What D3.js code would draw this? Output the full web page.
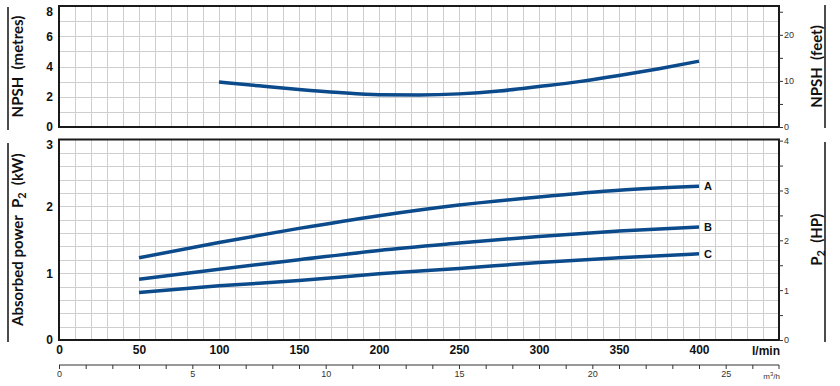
<!DOCTYPE html>
<html>
<head>
<meta charset="utf-8">
<script src="https://cdn.jsdelivr.net/npm/d3@7"></script>
<style>
  body { margin: 0; background: #fff; }
  svg { display: block; }
  .num { font-family: "Liberation Sans Narrow", "Liberation Sans", Arial, sans-serif; font-weight: bold; font-size: 12px; fill: #111; }
  .small { font-family: "Liberation Sans", Arial, sans-serif; font-size: 9px; fill: #333; }
  .title { font-family: Lato, "Open Sans", sans-serif; font-weight: bold; font-size: 15px; fill: #111; }
</style>
</head>
<body>
<div id="chart"></div>
<script>
// NPSH curve (l/min -> metres)
const npshFlow = [100, 125, 150, 175, 200, 225, 250, 275, 300, 325, 350, 375, 400];
const npshMetres = [2.97, 2.72, 2.48, 2.28, 2.14, 2.12, 2.19, 2.38, 2.68, 3.0, 3.4, 3.85, 4.35];

// absorbed power curves (l/min -> kW)
const powerFlow = [50, 100, 150, 200, 250, 300, 350, 400];
const powerA = [1.23, 1.46, 1.67, 1.86, 2.02, 2.14, 2.24, 2.30];
const powerB = [0.91, 1.06, 1.20, 1.34, 1.45, 1.55, 1.63, 1.69];
const powerC = [0.71, 0.81, 0.89, 0.99, 1.07, 1.16, 1.23, 1.29];
const curveNames = ["A", "B", "C"];

const flowTicks = [0, 50, 100, 150, 200, 250, 300, 350, 400];
const npshTicks = [0, 2, 4, 6, 8];
const feetTicks = [0, 10, 20];
const kwTicks = [0, 1, 2, 3];
const hpTicks = [0, 1, 2, 3, 4];
const m3Ticks = [0, 5, 10, 15, 20, 25];

const W = 840, H = 386;
const left = 59, right = 779;
const topPanel = { top: 6, bottom: 127 };
const botPanel = { top: 139.5, bottom: 340 };
const lineColor = "#0b4a8b";

const svg = d3.select("#chart").append("svg")
    .attr("width", W)
    .attr("height", H);

const x = d3.scaleLinear().domain([0, 450]).range([left, right]);
const xM3 = d3.scaleLinear().domain([0, 27]).range([left, right]);
const yNpsh = d3.scaleLinear().domain([0, 8]).range([topPanel.bottom, topPanel.top]);
const yFeet = d3.scaleLinear().domain([0, 8 * 3.28084]).range([topPanel.bottom, topPanel.top]);
const yKw = d3.scaleLinear().domain([0, 3]).range([botPanel.bottom, botPanel.top]);
const yHp = d3.scaleLinear().domain([0, 3 / 0.7457]).range([botPanel.bottom, botPanel.top]);

function grid(panel, y, step, max) {
    const g = svg.append("g").attr("stroke", "#cfcfcf").attr("stroke-width", 1);
    g.selectAll(".v")
        .data(d3.range(10, 450, 10))
        .join("line")
        .attr("x1", d => Math.round(x(d)) + 0.5)
        .attr("x2", d => Math.round(x(d)) + 0.5)
        .attr("y1", panel.top)
        .attr("y2", panel.bottom);
    g.selectAll(".h")
        .data(d3.range(step, max, step))
        .join("line")
        .attr("x1", left)
        .attr("x2", right)
        .attr("y1", d => Math.round(y(d)) + 0.5)
        .attr("y2", d => Math.round(y(d)) + 0.5);
}

grid(topPanel, yNpsh, 1, 7.99);
grid(botPanel, yKw, 0.2, 2.99);

// frames
[topPanel, botPanel].forEach(p => {
    svg.append("rect")
        .attr("x", left)
        .attr("y", p.top)
        .attr("width", right - left)
        .attr("height", p.bottom - p.top)
        .attr("fill", "none")
        .attr("stroke", "#1a1a1a")
        .attr("stroke-width", 2);
});

// left axes
const lAxisTop = svg.append("g")
    .attr("transform", `translate(${left},0)`)
    .call(d3.axisLeft(yNpsh).tickValues(npshTicks).tickSize(0).tickPadding(6).tickFormat(d3.format("d")));
const lAxisBot = svg.append("g")
    .attr("transform", `translate(${left},0)`)
    .call(d3.axisLeft(yKw).tickValues(kwTicks).tickSize(0).tickPadding(6).tickFormat(d3.format("d")));
[lAxisTop, lAxisBot].forEach(a => {
    a.select(".domain").remove();
    a.selectAll("text").attr("class", "num").attr("font-family", null).attr("font-size", null);
    // the top-most label sits a little lower, inside the frame
    a.selectAll(".tick text").filter((d, i, n) => i === n.length - 1).attr("dy", "0.75em");
});

// right axes
const rAxisTop = svg.append("g")
    .attr("transform", `translate(${right},0)`)
    .call(d3.axisRight(yFeet).tickValues(d3.range(0, 26, 5)).tickSize(4).tickPadding(1)
        .tickFormat(d => feetTicks.includes(d) ? d : ""));
const rAxisBot = svg.append("g")
    .attr("transform", `translate(${right},0)`)
    .call(d3.axisRight(yHp).tickValues(d3.range(0, 4.01, 0.5)).tickSize(4).tickPadding(1)
        .tickFormat(d => hpTicks.includes(d) ? d : ""));
[rAxisTop, rAxisBot].forEach(a => {
    a.select(".domain").remove();
    a.selectAll("line").attr("stroke", "#333");
    a.selectAll("text").attr("class", "small").attr("font-family", null).attr("font-size", null);
});

// bottom l/min axis
const xAxis = svg.append("g")
    .attr("transform", `translate(0,${botPanel.bottom})`)
    .call(d3.axisBottom(x).tickValues(flowTicks).tickSize(0).tickPadding(5));
xAxis.select(".domain").remove();
xAxis.selectAll("text").attr("class", "num").attr("font-family", null).attr("font-size", null);
svg.append("text")
    .attr("class", "num")
    .attr("x", 780)
    .attr("y", 355)
    .attr("text-anchor", "end")
    .text("l/min");

// m3/h axis
const m3Y = 365;
const m3Axis = svg.append("g")
    .attr("transform", `translate(0,${m3Y})`)
    .call(d3.axisBottom(xM3).tickValues(d3.range(0, 27, 1)).tickSize(4).tickPadding(2)
        .tickFormat(d => m3Ticks.includes(d) ? d : ""));
m3Axis.select(".domain").attr("d", `M${left},0H${right}`).attr("stroke", "#333");
m3Axis.selectAll("line").attr("stroke", "#333");
m3Axis.selectAll("text").attr("class", "small").attr("font-family", null).attr("font-size", null);
m3Axis.append("line")
    .attr("x1", right).attr("x2", right).attr("y1", 0).attr("y2", 4)
    .attr("stroke", "#333");
svg.append("text")
    .attr("class", "small")
    .attr("x", 780)
    .attr("y", 379)
    .attr("text-anchor", "end")
    .style("font-size", "8px")
    .html("m<tspan dy='-3' font-size='6'>3</tspan><tspan dy='3'>/h</tspan>");

// curves
const line = d3.line().curve(d3.curveMonotoneX);

svg.append("path")
    .attr("d", line(npshFlow.map((f, i) => [x(f), yNpsh(npshMetres[i])])))
    .attr("fill", "none")
    .attr("stroke", lineColor)
    .attr("stroke-width", 3.5);

[powerA, powerB, powerC].forEach((vals, k) => {
    svg.append("path")
        .attr("d", line(powerFlow.map((f, i) => [x(f), yKw(vals[i])])))
        .attr("fill", "none")
        .attr("stroke", lineColor)
        .attr("stroke-width", 3.5);
    svg.append("text")
        .attr("class", "num")
        .style("font-size", "11px")
        .attr("x", x(powerFlow[powerFlow.length - 1]) + 5)
        .attr("y", yKw(vals[vals.length - 1]) + 4)
        .text(curveNames[k]);
});

// titles and side bars
function sideTitle(xPos, panel, build) {
    const cy = (panel.top + panel.bottom) / 2;
    const t = svg.append("text")
        .attr("class", "title")
        .attr("transform", `translate(${xPos},${cy}) rotate(-90)`)
        .attr("text-anchor", "middle")
        .attr("dy", "0.35em")
        .attr("xml:space", "preserve");
    build(t);
}
function sideBar(xPos, y1, y2) {
    svg.append("line")
        .attr("x1", xPos).attr("x2", xPos)
        .attr("y1", y1).attr("y2", y2)
        .attr("stroke", "#111")
        .attr("stroke-width", 1.5);
}

sideTitle(18, topPanel, t => t.text("NPSH  (metres)"));
sideTitle(817, topPanel, t => t.text("NPSH  (feet)"));
sideTitle(18, botPanel, t => {
    t.append("tspan").text("Absorbed power  P");
    t.append("tspan").attr("dy", 3).style("font-size", "11px").text("2");
    t.append("tspan").attr("dy", -3).text("  (kW)");
});
sideTitle(817, botPanel, t => {
    t.append("tspan").text("P");
    t.append("tspan").attr("dy", 3).style("font-size", "11px").text("2");
    t.append("tspan").attr("dy", -3).text("  (HP)");
});

sideBar(8, 7, 130);
sideBar(825, 5, 128);
sideBar(8, 143, 342);
sideBar(825, 142, 342);
</script>
</body>
</html>
